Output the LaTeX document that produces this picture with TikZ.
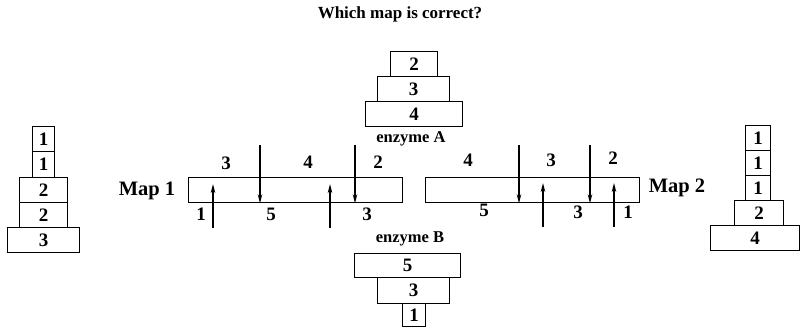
\documentclass[tikz,border=0pt]{standalone}
\usepackage{fontspec}
\setmainfont{Liberation Serif}
\usetikzlibrary{arrows.meta}
\begin{document}
\begin{tikzpicture}[x=1pt,y=-1pt,
  lbl/.style={font=\bfseries\fontsize{19}{19}\selectfont, inner sep=0pt},
  mlbl/.style={font=\bfseries\fontsize{20.5}{20.5}\selectfont, inner sep=0pt},
  ttl/.style={font=\bfseries\fontsize{17}{17}\selectfont, inner sep=0pt},
  enz/.style={font=\bfseries\fontsize{16.5}{16.5}\selectfont, inner sep=0pt},
  blk/.style={draw, line width=1.3pt, inner sep=0pt, anchor=north west,
    font=\bfseries\fontsize{19}{19}\selectfont},
  maprect/.style={draw, line width=1.3pt, inner sep=0pt, anchor=north west,
    minimum width=214pt, minimum height=25pt},
  arr/.style={line width=1.4pt, -{Stealth[length=9pt,width=4.5pt]}}]
\useasboundingbox (0,0) rectangle (800,327);

\node[ttl] (title) at (400,14) {Which map is correct?};

% enzyme A stack
\node[blk, minimum width=47pt, minimum height=25pt] (a2) at (390,51) {2};
\node[blk, minimum width=72pt, minimum height=25pt] (a3) at (377,76) {3};
\node[blk, minimum width=97pt, minimum height=25pt] (a4) at (365,101) {4};
\node[enz] (enzA) at (411,139) {enzyme A};

% enzyme B stack
\node[enz] (enzB) at (410,239) {enzyme B};
\node[blk, minimum width=106pt, minimum height=24pt] (b5) at (354,253) {5};
\node[blk, minimum width=72pt, minimum height=26pt] (b3) at (377,277) {3};
\node[blk, minimum width=23pt, minimum height=23pt] (b1) at (402,303) {1};

% left stack
\node[blk, minimum width=22pt, minimum height=25pt] (l1) at (32,126) {1};
\node[blk, minimum width=22pt, minimum height=26pt] (l2) at (32,151) {1};
\node[blk, minimum width=48pt, minimum height=25pt] (l3) at (19,177) {2};
\node[blk, minimum width=48pt, minimum height=25pt] (l4) at (19,202) {2};
\node[blk, minimum width=72pt, minimum height=25pt] (l5) at (7,227) {3};

% right stack
\node[blk, minimum width=25pt, minimum height=25pt] (r1) at (745,125) {1};
\node[blk, minimum width=25pt, minimum height=25pt] (r2) at (745,150) {1};
\node[blk, minimum width=25pt, minimum height=25pt] (r3) at (745,175) {1};
\node[blk, minimum width=49pt, minimum height=25pt] (r4) at (734,200) {2};
\node[blk, minimum width=89pt, minimum height=25pt] (r5) at (710,225) {4};

% Map 1
\node[maprect] (map1) at (188,177) {};
\node[mlbl] (map1lbl) at (147,191) {Map 1};
\node[lbl] at (226,163) {3};
\node[lbl] at (308,162) {4};
\node[lbl] at (378,162) {2};
\node[lbl] at (201,214) {1};
\node[lbl] at (271,214) {5};
\node[lbl] at (367,214) {3};
\coordinate (m1a) at (260,145);
\coordinate (m1b) at (355,145);
\coordinate (m1c) at (213,228);
\coordinate (m1d) at (330,228);
\draw[arr] (m1a) -- (m1a |- map1.south);
\draw[arr] (m1b) -- (m1b |- map1.south);
\draw[arr] (m1c) -- ([yshift=-7pt]m1c |- map1.north);
\draw[arr] (m1d) -- ([yshift=-7pt]m1d |- map1.north);

% Map 2
\node[maprect] (map2) at (425,177) {};
\node[mlbl] (map2lbl) at (677,188) {Map 2};
\node[lbl] at (468,160) {4};
\node[lbl] at (551,160) {3};
\node[lbl] at (613,158) {2};
\node[lbl] at (484,210) {5};
\node[lbl] at (578,212) {3};
\node[lbl] at (628,212) {1};
\coordinate (m2a) at (519,145);
\coordinate (m2b) at (590,145);
\coordinate (m2c) at (543,227);
\coordinate (m2d) at (614,227);
\draw[arr] (m2a) -- (m2a |- map2.south);
\draw[arr] (m2b) -- (m2b |- map2.south);
\draw[arr] (m2c) -- ([yshift=-6pt]m2c |- map2.north);
\draw[arr] (m2d) -- ([yshift=-6pt]m2d |- map2.north);
\end{tikzpicture}
\end{document}
